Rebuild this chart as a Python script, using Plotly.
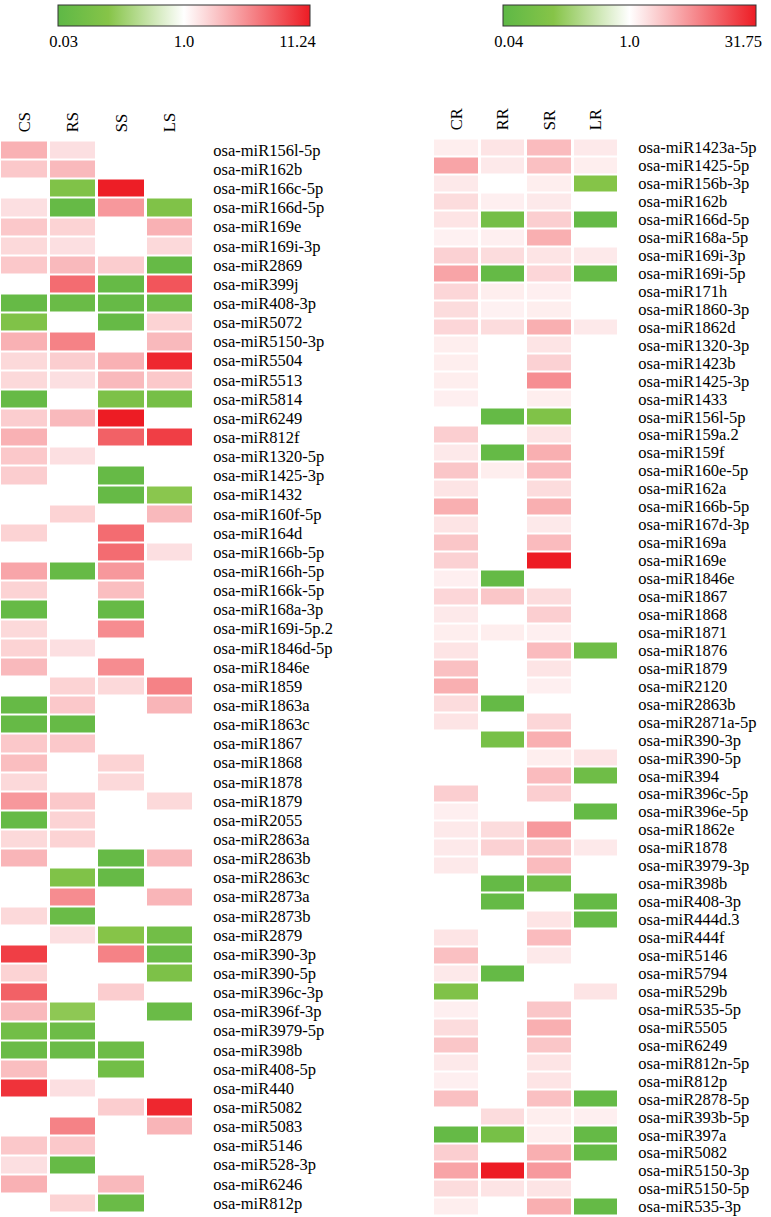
import math
import plotly.graph_objects as go

N = None

# ---------------------------------------------------------------
# FOLD CHANGE - PAINEL ESQUERDO (CS, RS, SS, LS)

mir_left = ['osa-miR156l-5p', 'osa-miR162b', 'osa-miR166c-5p', 'osa-miR166d-5p', 'osa-miR169e',
            'osa-miR169i-3p', 'osa-miR2869', 'osa-miR399j', 'osa-miR408-3p', 'osa-miR5072',
            'osa-miR5150-3p', 'osa-miR5504', 'osa-miR5513', 'osa-miR5814', 'osa-miR6249',
            'osa-miR812f', 'osa-miR1320-5p', 'osa-miR1425-3p', 'osa-miR1432', 'osa-miR160f-5p',
            'osa-miR164d', 'osa-miR166b-5p', 'osa-miR166h-5p', 'osa-miR166k-5p', 'osa-miR168a-3p',
            'osa-miR169i-5p.2', 'osa-miR1846d-5p', 'osa-miR1846e', 'osa-miR1859', 'osa-miR1863a',
            'osa-miR1863c', 'osa-miR1867', 'osa-miR1868', 'osa-miR1878', 'osa-miR1879',
            'osa-miR2055', 'osa-miR2863a', 'osa-miR2863b', 'osa-miR2863c', 'osa-miR2873a',
            'osa-miR2873b', 'osa-miR2879', 'osa-miR390-3p', 'osa-miR390-5p', 'osa-miR396c-3p',
            'osa-miR396f-3p', 'osa-miR3979-5p', 'osa-miR398b', 'osa-miR408-5p', 'osa-miR440',
            'osa-miR5082', 'osa-miR5083', 'osa-miR5146', 'osa-miR528-3p', 'osa-miR6246',
            'osa-miR812p']
cols_left = ['CS', 'RS', 'SS', 'LS']

CS = [2.3, 1.8, N, 1.4, 1.8, 1.5, 1.8, N, 0.04, 0.1,
      2.3, 1.5, 1.5, 0.04, 1.7, 2.3, 1.8, 1.7, N, N,
      1.6, N, 2.6, 1.6, 0.04, 1.5, 1.6, 2.1, N, 0.04,
      0.04, 1.8, 2.0, 1.5, 3.0, 0.04, 1.5, 2.2, N, N,
      1.5, N, 7.8, 1.6, 5.4, 2.1, 0.06, 0.045, 2.0, 8.8,
      N, N, 1.8, 1.4, 2.3, N]
RS = [1.4, 2.1, 0.1, 0.04, 1.6, 1.4, 2.1, 4.8, 0.045, N,
      3.8, 1.7, 1.4, N, 2.1, N, 1.4, N, N, 1.6,
      N, N, 0.04, N, N, N, 1.4, N, 1.6, 1.8,
      0.04, 1.8, N, N, 1.8, 1.6, 1.6, N, 0.1, 3.4,
      0.045, 1.4, N, N, N, 0.14, 0.05, 0.045, N, 1.4,
      N, 3.8, 1.8, 0.04, N, 1.6]
SS = [N, N, 11.0, 3.0, N, N, 1.7, 0.04, 0.04, 0.04,
      N, 2.3, 2.1, 0.09, 11.2, 5.4, N, 0.04, 0.04, N,
      4.8, 4.8, 3.0, 2.0, 0.04, 3.4, N, 3.4, 1.5, N,
      N, N, 1.6, 1.5, N, N, N, 0.04, 0.04, N,
      N, 0.12, 3.8, N, 1.7, N, N, 0.05, 0.06, N,
      1.7, N, N, N, 2.1, 0.045]
LS = [N, N, N, 0.1, 2.3, 1.5, 0.04, 6.1, 0.045, 1.6,
      2.1, 10.0, 1.8, 0.07, N, 7.8, N, N, 0.13, 2.1,
      N, 1.4, N, N, N, N, N, N, 3.8, 2.2,
      N, N, N, N, 1.5, N, N, 2.1, N, 2.2,
      N, 0.06, 0.045, 0.09, N, 0.045, N, N, N, N,
      10.0, 2.2, N, N, N, N]
min_left, max_left = 0.03, 11.24

# ---------------------------------------------------------------
# FOLD CHANGE - PAINEL DIREITO (CR, RR, SR, LR)

mir_right = ['osa-miR1423a-5p', 'osa-miR1425-5p', 'osa-miR156b-3p', 'osa-miR162b', 'osa-miR166d-5p',
             'osa-miR168a-5p', 'osa-miR169i-3p', 'osa-miR169i-5p', 'osa-miR171h', 'osa-miR1860-3p',
             'osa-miR1862d', 'osa-miR1320-3p', 'osa-miR1423b', 'osa-miR1425-3p', 'osa-miR1433',
             'osa-miR156l-5p', 'osa-miR159a.2', 'osa-miR159f', 'osa-miR160e-5p', 'osa-miR162a',
             'osa-miR166b-5p', 'osa-miR167d-3p', 'osa-miR169a', 'osa-miR169e', 'osa-miR1846e',
             'osa-miR1867', 'osa-miR1868', 'osa-miR1871', 'osa-miR1876', 'osa-miR1879',
             'osa-miR2120', 'osa-miR2863b', 'osa-miR2871a-5p', 'osa-miR390-3p', 'osa-miR390-5p',
             'osa-miR394', 'osa-miR396c-5p', 'osa-miR396e-5p', 'osa-miR1862e', 'osa-miR1878',
             'osa-miR3979-3p', 'osa-miR398b', 'osa-miR408-3p', 'osa-miR444d.3', 'osa-miR444f',
             'osa-miR5146', 'osa-miR5794', 'osa-miR529b', 'osa-miR535-5p', 'osa-miR5505',
             'osa-miR6249', 'osa-miR812n-5p', 'osa-miR812p', 'osa-miR2878-5p', 'osa-miR393b-5p',
             'osa-miR397a', 'osa-miR5082', 'osa-miR5150-3p', 'osa-miR5150-5p', 'osa-miR535-3p']
cols_right = ['CR', 'RR', 'SR', 'LR']

CR = [1.3, 4.0, 1.4, 1.7, 1.5, 1.23, 2.0, 4.0, 1.86, 1.7,
      1.86, 1.3, 1.3, 1.3, 1.27, N, 2.1, 1.4, 2.4, 1.5,
      3.4, 1.5, 2.4, 2.0, 1.27, 1.86, 1.4, 1.3, 1.5, 2.6,
      3.4, 1.7, 1.5, N, N, N, 2.1, 1.27, 1.4, 1.4,
      1.4, N, N, N, 1.5, 2.6, 1.4, 0.12, 1.27, 1.7,
      2.4, 1.4, 1.27, 2.6, N, 0.05, 2.1, 4.0, 1.7, 1.3]
RR = [1.5, 1.4, N, 1.27, 0.08, 1.27, 1.7, 0.05, 1.3, 1.23,
      1.7, N, N, N, N, 0.05, N, 0.05, 1.3, N,
      N, N, N, N, 0.05, 2.4, N, 1.3, N, N,
      N, 0.05, N, 0.09, N, N, N, N, 1.7, 2.0,
      N, 0.05, 0.05, N, N, N, 0.05, N, N, N,
      N, N, N, N, 1.7, 0.09, N, 31.75, 1.5, N]
SR = [2.8, 2.6, 1.3, 1.4, 2.1, 3.4, 1.5, 1.86, 1.27, 1.3,
      3.4, 1.5, 2.0, 5.6, 1.3, 0.12, 1.5, 3.4, 2.8, 1.7,
      3.4, 1.4, 2.8, 31.75, N, 1.7, 2.1, 1.27, 2.8, 1.5,
      1.27, N, 1.86, 3.4, 1.3, 2.8, 2.1, N, 4.7, 2.4,
      2.8, 0.07, N, 1.5, 2.8, 1.4, N, N, 2.4, 3.4,
      2.4, 1.5, 1.5, 2.6, 1.3, 1.3, 3.4, 4.7, 1.5, 3.4]
LR = [1.4, 1.3, 0.14, N, 0.05, N, 1.4, 0.05, N, N,
      1.4, N, N, N, N, N, N, N, N, N,
      N, N, N, N, N, N, N, N, 0.07, N,
      N, N, N, N, 1.5, 0.07, N, 0.05, N, 1.4,
      N, N, 0.05, 0.05, N, N, N, 1.5, N, N,
      N, N, N, 0.05, 1.27, 0.05, 0.05, N, N, 0.05]
min_right, max_right = 0.04, 31.75

# ---------------------------------------------------------------
# ESCALA DE CORES: VERDE (<1) - BRANCO (1) - VERMELHO (>1)

escala = [[0.0, '#5eb846'], [0.2, '#86c448'], [0.5, '#ffffff'], [1.0, '#ed1c24']]

W, H = 771, 1217
FONTE = 'Liberation Serif, Times New Roman, serif'


def to_z(valores, vmin, vmax):
    # TRANSFORMA O FOLD CHANGE EM ESCALA LOG SIMETRICA (-1 .. 0 .. 1)
    z = []
    for v in valores:
        if v is None:
            z.append(None)
        elif v >= 1:
            z.append(math.log(v) / math.log(vmax))
        else:
            z.append(-math.log(v) / math.log(vmin))
    return z


def matriz(colunas, vmin, vmax):
    zc = [to_z(c, vmin, vmax) for c in colunas]
    return [list(linha) for linha in zip(*zc)]


def colorbar(x0, x1, vmin, vmax):
    return dict(orientation='h', x=x0 / W, xanchor='left', y=1 - 5 / H, yanchor='top',
                len=x1 - x0, lenmode='pixels', thickness=21, thicknessmode='pixels',
                xpad=0, ypad=0, outlinecolor='#333', outlinewidth=1,
                tickvals=[-0.955, 0, 0.9], ticktext=[str(vmin), '1.0', str(vmax)],
                ticks='', tickfont=dict(family=FONTE, size=16.5, color='black'))


trace_l = go.Heatmap(z=matriz([CS, RS, SS, LS], min_left, max_left),
                     x=cols_left, y=mir_left, xaxis='x', yaxis='y',
                     zmin=-1, zmax=1, colorscale=escala, xgap=3, ygap=2,
                     hoverinfo='skip', colorbar=colorbar(58, 310, min_left, max_left))

trace_r = go.Heatmap(z=matriz([CR, RR, SR, LR], min_right, max_right),
                     x=cols_right, y=mir_right, xaxis='x2', yaxis='y2',
                     zmin=-1, zmax=1, colorscale=escala, xgap=3, ygap=2,
                     hoverinfo='skip', colorbar=colorbar(503, 756, 0.04, 31.75))

fig = go.Figure(data=[trace_l, trace_r])


def eixo_x(x0, x1, cats):
    return dict(domain=[x0 / W, x1 / W], side='top', tickangle=-90, showgrid=False,
                zeroline=False, showline=False, ticks='outside', ticklen=4,
                tickmode='array', tickvals=cats, ticktext=cats,
                tickcolor='rgba(0,0,0,0)', tickfont=dict(family=FONTE, size=16.5, color='black'))


def eixo_y(y0, y1, x_anchor, cats):
    return dict(domain=[1 - y1 / H, 1 - y0 / H], side='right', autorange='reversed',
                anchor=x_anchor, showgrid=False, zeroline=False, showline=False,
                tickmode='array', tickvals=cats, ticktext=cats,
                ticks='outside', ticklen=15, tickcolor='rgba(0,0,0,0)',
                tickfont=dict(family=FONTE, size=16.5, color='black'))


xl = eixo_x(0, 194, cols_left)
xl['anchor'] = 'y'
xr = eixo_x(433, 619, cols_right)
xr['anchor'] = 'y2'

fig.update_layout(
    width=W, height=H, margin=dict(l=0, r=0, t=0, b=0, autoexpand=False),
    paper_bgcolor='white', plot_bgcolor='white',
    xaxis=xl, yaxis=eixo_y(140.5, 1212.5, 'x', mir_left),
    xaxis2=xr, yaxis2=eixo_y(138.5, 1215.5, 'x2', mir_right),
    shapes=[dict(type='line', xref='paper', yref='paper', x0=x / W, x1=x / W,
                 y0=1 - 5 / H, y1=1 - 26 / H, line=dict(color='#333', width=1))
            for x in [(58 + 310) / 2, (503 + 756) / 2]],
)

# TIRA A MARGEM PADRAO DO <body> PARA A FIGURA FICAR NO CANTO
fig.write_html('out.html', config={'displayModeBar': False},
               post_script="document.body.style.margin='0';document.body.style.overflow='hidden';")
